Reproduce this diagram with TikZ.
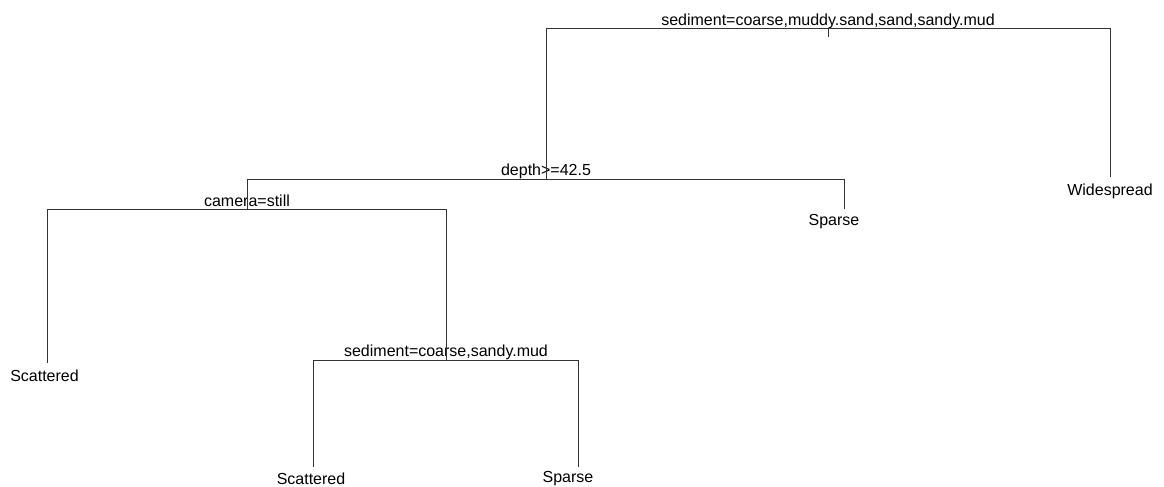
\documentclass[tikz,border=0pt]{standalone}
\usepackage{fontspec}
\setmainfont{Liberation Sans}
\tikzset{
  split/.style={anchor=base, inner sep=0pt, font=\fontsize{8}{9.6}\selectfont},
  leaf/.style={anchor=base, inner sep=0pt, font=\fontsize{8}{9.6}\selectfont},
  br/.style={draw=black!80, line width=0.5pt},
}
\begin{document}
\begin{tikzpicture}[x=0.5pt, y=-0.5pt]
  \useasboundingbox (0,0) rectangle (1164,487);
  \coordinate (t1) at (828,28); \coordinate (t1s) at (828,37);
  \coordinate (t2) at (546,179); \coordinate (t3) at (1110,177);
  \coordinate (t4) at (247,209); \coordinate (t5) at (844,209);
  \coordinate (t6) at (47,363); \coordinate (t7) at (446,360);
  \coordinate (t8) at (313,467); \coordinate (t9) at (578,467);
  \node[split] (sed1) at (828,25.5) {sediment=coarse,muddy.sand,sand,sandy.mud};
  \node[split] (dep) at (546,175) {depth>=42.5};
  \node[split] (cam) at (247,206.5) {camera=still};
  \node[split] (sed2) at (446,356) {sediment=coarse,sandy.mud};
  \node[leaf] (wid) at (1110,195) {Widespread};
  \node[leaf] (spa1) at (834,225) {Sparse};
  \node[leaf] (sca1) at (44.5,381) {Scattered};
  \node[leaf] (sca2) at (311,484) {Scattered};
  \node[leaf] (spa2) at (568,482) {Sparse};
  \draw[br] (t1) -- (t1s);
  \draw[br] (t1) -| (t2); \draw[br] (t1) -| (t3);
  \draw[br] (t2) -| (t4); \draw[br] (t2) -| (t5);
  \draw[br] (t4) -| (t6); \draw[br] (t4) -| (t7);
  \draw[br] (t7) -| (t8); \draw[br] (t7) -| (t9);
\end{tikzpicture}
\end{document}
